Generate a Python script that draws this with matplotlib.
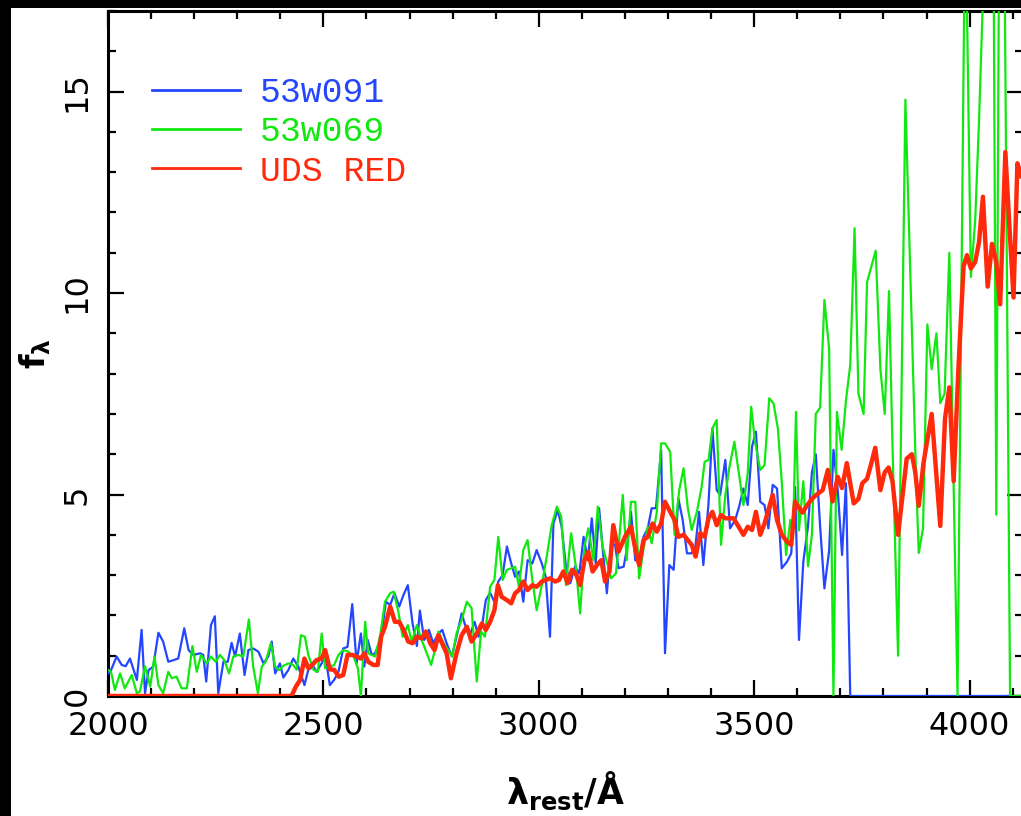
import numpy as np
import matplotlib
matplotlib.use("Agg")
import matplotlib.pyplot as plt
from matplotlib.lines import Line2D
from matplotlib.patches import Rectangle
from matplotlib.ticker import MultipleLocator

# rest-frame spectra: wavelength (A) and f_lambda
blue_wave = [2000, 2007, 2020, 2032, 2041, 2051, 2067, 2078, 2086, 2094,
             2105, 2117, 2128, 2140, 2152, 2163, 2177, 2187, 2198, 2214,
             2221, 2228, 2239, 2248, 2256, 2268, 2278, 2287, 2295, 2306,
             2317, 2326, 2337, 2349, 2361, 2372, 2380, 2388, 2399, 2407,
             2419, 2430, 2442, 2456, 2465, 2477, 2484, 2496, 2504, 2515,
             2525, 2535, 2546, 2556, 2567, 2577, 2587, 2595, 2603, 2612,
             2620, 2634, 2645, 2655, 2665, 2676, 2686, 2696, 2707, 2717,
             2724, 2734, 2745, 2755, 2767, 2776, 2786, 2798, 2809, 2821,
             2830, 2840, 2851, 2860, 2869, 2877, 2887, 2897, 2906, 2916,
             2926, 2936, 2945, 2954, 2964, 2974, 2985, 2995, 3007, 3016,
             3026, 3034, 3044, 3053, 3063, 3073, 3084, 3094, 3104, 3114,
             3123, 3132, 3140, 3150, 3158, 3168, 3177, 3185, 3197, 3204,
             3214, 3224, 3233, 3243, 3253, 3262, 3272, 3284, 3293, 3303,
             3313, 3324, 3334, 3344, 3354, 3363, 3372, 3382, 3394, 3403,
             3413, 3421, 3433, 3444, 3456, 3465, 3475, 3485, 3495, 3504,
             3514, 3524, 3533, 3543, 3553, 3564, 3576, 3586, 3595, 3604,
             3614, 3625, 3634, 3643, 3653, 3663, 3674, 3684, 3694, 3704,
             3713, 3723, 4120]
blue_flux = [0.55, 0.64, 0.98, 0.77, 0.74, 0.93, 0.40, 1.64, 0.07, 0.64,
             0.73, 1.57, 1.35, 0.85, 0.89, 0.93, 1.68, 1.14, 1.02, 1.06,
             1.02, 0.36, 1.76, 1.98, 0.07, 0.85, 0.85, 1.32, 0.98, 1.55,
             0.52, 1.14, 1.18, 1.10, 0.81, 0.98, 1.35, 0.56, 0.81, 0.46,
             0.65, 0.93, 0.73, 0.27, 0.65, 0.73, 0.60, 0.81, 1.02, 0.27,
             0.40, 0.60, 1.18, 1.22, 2.28, 0.81, 1.55, 0.73, 1.39, 1.02,
             1.06, 1.43, 2.34, 2.26, 2.55, 2.22, 2.51, 2.75, 1.80, 1.24,
             2.12, 1.39, 1.64, 1.31, 1.55, 1.64, 1.31, 0.98, 1.47, 2.05,
             1.72, 1.51, 1.84, 1.47, 1.80, 2.38, 2.56, 2.34, 2.84, 3.00,
             3.71, 3.29, 2.96, 3.09, 2.34, 3.37, 3.29, 3.62, 3.29, 2.96,
             1.47, 4.28, 4.62, 4.20, 3.21, 2.80, 3.21, 3.04, 3.95, 3.37,
             4.41, 3.29, 4.66, 3.46, 2.55, 3.79, 3.75, 3.17, 3.21, 3.62,
             4.57, 3.37, 3.33, 3.95, 4.16, 4.66, 4.66, 6.10, 1.06, 3.25,
             3.13, 4.90, 4.37, 3.54, 3.54, 3.66, 4.57, 3.25, 4.78, 6.64,
             5.11, 4.99, 5.86, 4.16, 4.37, 4.70, 5.15, 4.74, 6.19, 6.56,
             4.82, 4.74, 4.16, 5.24, 5.15, 3.17, 3.33, 3.54, 5.19, 1.39,
             3.33, 4.22, 5.55, 6.00, 4.22, 2.67, 3.61, 6.11, 5.11, 3.50,
             5.28, 0.0, 0.0]

green_wave = [2000, 2007, 2016, 2028, 2039, 2055, 2067, 2074, 2086, 2098,
              2108, 2117, 2128, 2140, 2148, 2159, 2171, 2183, 2196, 2206,
              2216, 2229, 2239, 2250, 2260, 2270, 2281, 2291, 2303, 2314,
              2327, 2337, 2348, 2357, 2366, 2378, 2388, 2397, 2407, 2419,
              2430, 2438, 2448, 2457, 2465, 2477, 2487, 2496, 2504, 2515,
              2525, 2535, 2546, 2558, 2570, 2580, 2587, 2597, 2604, 2612,
              2620, 2632, 2643, 2655, 2663, 2674, 2684, 2696, 2705, 2717,
              2728, 2740, 2750, 2759, 2767, 2779, 2790, 2799, 2809, 2821,
              2833, 2844, 2856, 2866, 2875, 2887, 2897, 2906, 2916, 2926,
              2936, 2945, 2954, 2964, 2974, 2985, 2995, 3007, 3019, 3030,
              3042, 3052, 3063, 3075, 3086, 3096, 3106, 3115, 3127, 3137,
              3148, 3158, 3168, 3179, 3186, 3195, 3204, 3214, 3224, 3233,
              3243, 3253, 3262, 3274, 3284, 3293, 3305, 3315, 3326, 3336,
              3346, 3355, 3367, 3378, 3385, 3394, 3403, 3413, 3423, 3433,
              3442, 3454, 3465, 3475, 3485, 3493, 3502, 3514, 3524, 3535,
              3545, 3555, 3564, 3574, 3584, 3590, 3597, 3604, 3614, 3625,
              3634, 3643, 3653, 3663, 3674, 3684, 3692, 3703, 3713, 3723,
              3733, 3742, 3754, 3762, 3782, 3793, 3803, 3813, 3821, 3834,
              3851, 3876, 3882, 3892, 3902, 3912, 3923, 3932, 3942, 3953,
              3972, 3990, 4003, 4013, 4022, 4039, 4055, 4062, 4069, 4080,
              4094, 4120]
green_flux = [0.65, 0.60, 0.15, 0.56, 0.19, 0.52, 0.07, 0.11, 0.74, 0.23,
              0.98, 0.27, 0.07, 0.60, 0.44, 0.48, 0.19, 0.19, 1.24, 0.60,
              1.02, 0.81, 0.98, 0.85, 1.02, 0.89, 0.56, 0.98, 1.02, 0.98,
              1.90, 0.73, 0.07, 0.73, 0.85, 1.31, 0.73, 0.64, 0.75, 0.81,
              0.77, 0.65, 1.51, 1.47, 1.02, 0.65, 0.60, 1.55, 0.69, 0.73,
              0.77, 1.02, 1.14, 1.10, 0.98, 0.69, 0.0, 1.84, 1.06, 1.02,
              0.98, 1.51, 2.34, 2.55, 2.59, 2.09, 1.47, 1.76, 1.35, 1.76,
              1.39, 1.06, 0.77, 1.14, 1.60, 1.31, 1.14, 0.98, 1.55, 1.89,
              2.34, 2.18, 0.36, 1.60, 1.47, 2.71, 2.88, 3.95, 2.88, 3.13,
              3.17, 3.21, 2.71, 3.62, 3.87, 2.88, 2.13, 2.75, 3.50, 4.24,
              4.70, 4.45, 2.75, 4.04, 3.21, 2.05, 3.71, 4.16, 3.37, 4.70,
              3.71, 3.33, 2.92, 3.04, 3.79, 4.99, 3.37, 4.82, 4.82, 2.92,
              3.66, 4.20, 3.79, 4.57, 6.27, 6.27, 6.06, 4.00, 5.11, 5.65,
              4.66, 4.12, 4.57, 5.19, 5.81, 5.86, 6.64, 6.85, 3.75, 4.99,
              5.65, 6.31, 5.48, 4.74, 5.53, 7.18, 6.31, 5.61, 5.73, 7.39,
              7.26, 6.64, 5.32, 3.50, 4.37, 3.95, 7.05, 4.11, 5.33, 3.22,
              4.00, 7.00, 7.16, 9.83, 8.61, 0.0, 7.05, 6.11, 7.33, 8.22,
              11.61, 7.50, 7.00, 10.27, 11.05, 8.11, 7.00, 10.05, 6.22, 1.00,
              14.8, 5.33, 3.55, 4.16, 9.22, 8.11, 9.00, 7.27, 7.50, 11.0,
              0.0, 20.0, 10.4, 11.8, 14.3, 20.0, 20.0, 4.5, 20.0, 20.0,
              0.0, 0.0]

red_wave = [2000, 2426, 2436, 2446, 2456, 2465, 2474, 2484, 2496, 2504,
            2515, 2525, 2536, 2546, 2556, 2567, 2577, 2587, 2595, 2604,
            2616, 2626, 2634, 2643, 2655, 2666, 2676, 2686, 2697, 2707,
            2717, 2728, 2738, 2748, 2758, 2767, 2777, 2786, 2796, 2809,
            2821, 2833, 2844, 2856, 2868, 2877, 2887, 2897, 2905, 2914,
            2926, 2936, 2945, 2954, 2964, 2974, 2985, 2995, 3007, 3016,
            3026, 3038, 3047, 3057, 3067, 3077, 3086, 3096, 3106, 3115,
            3125, 3135, 3145, 3154, 3164, 3173, 3185, 3200, 3214, 3224,
            3233, 3243, 3253, 3264, 3274, 3284, 3293, 3305, 3315, 3324,
            3336, 3346, 3355, 3364, 3375, 3385, 3394, 3403, 3413, 3423,
            3433, 3442, 3452, 3464, 3475, 3485, 3495, 3504, 3514, 3524,
            3533, 3543, 3553, 3564, 3576, 3586, 3595, 3601, 3612, 3622,
            3634, 3645, 3659, 3671, 3682, 3694, 3704, 3715, 3731, 3742,
            3751, 3762, 3772, 3781, 3793, 3803, 3812, 3821, 3834, 3854,
            3866, 3874, 3882, 3893, 3912, 3932, 3943, 3953, 3963, 3974,
            3986, 3994, 4003, 4013, 4022, 4031, 4042, 4052, 4062, 4071,
            4083, 4093, 4102, 4111, 4120]
red_flux = [0.0, 0.0, 0.23, 0.40, 0.93, 0.69, 0.77, 0.89, 0.93, 1.14,
            0.66, 0.65, 0.48, 0.52, 1.02, 1.02, 0.98, 0.93, 1.06, 0.85,
            0.77, 0.77, 1.47, 1.72, 2.22, 1.84, 1.84, 1.64, 1.35, 1.31,
            1.47, 1.43, 1.60, 1.31, 1.14, 1.51, 1.27, 1.06, 0.44, 1.06,
            1.51, 1.72, 1.35, 1.55, 1.80, 1.64, 1.84, 2.13, 2.75, 2.46,
            2.38, 2.30, 2.55, 2.63, 2.84, 2.63, 2.75, 2.71, 2.84, 2.88,
            2.92, 2.84, 2.88, 3.09, 2.80, 3.13, 3.04, 2.75, 3.37, 3.58,
            3.09, 3.25, 3.37, 2.84, 3.09, 4.24, 3.58, 3.95, 4.20, 3.66,
            3.25, 3.87, 3.95, 4.28, 4.08, 4.28, 4.82, 4.57, 4.37, 3.95,
            4.00, 3.87, 3.75, 3.46, 4.04, 3.95, 4.41, 4.57, 4.24, 4.49,
            4.41, 4.41, 4.41, 4.20, 4.00, 4.20, 4.12, 4.57, 4.00, 4.28,
            4.62, 4.99, 4.37, 4.00, 3.83, 3.75, 4.82, 4.72, 4.55, 4.72,
            4.89, 5.00, 5.11, 5.61, 4.83, 5.44, 5.16, 5.78, 4.78, 4.89,
            5.28, 5.39, 5.78, 6.16, 5.11, 5.55, 5.67, 5.33, 4.00, 5.89,
            6.00, 5.55, 4.72, 5.78, 7.00, 4.22, 6.89, 7.66, 5.33, 8.11,
            10.66, 10.94, 10.61, 10.77, 11.27, 12.39, 10.16, 11.22, 10.77, 9.72,
            13.5, 11.55, 9.89, 13.22, 12.9]

series_names = ["53w091", "53w069", "UDS RED"]
series_colors = ["#2446ff", "#10e810", "#ff2a0c"]

assert len(blue_wave) == len(blue_flux)
assert len(green_wave) == len(green_flux)
assert len(red_wave) == len(red_flux)

W, H = 1021, 816
fig = plt.figure(figsize=(W / 100, H / 100), dpi=100)
fig.patch.set_facecolor("white")
# dark frame strips along the left and top edges
fig.patches.append(Rectangle((0, 0), 11 / W, 1, transform=fig.transFigure,
                             facecolor="black", edgecolor="none", zorder=10))
fig.patches.append(Rectangle((0, 1 - 8 / H), 1, 8 / H, transform=fig.transFigure,
                             facecolor="black", edgecolor="none", zorder=10))

ax = fig.add_axes([108 / W, (H - 696) / H, 915 / W, 685 / H])

ax.plot(blue_wave, blue_flux, color=series_colors[0], lw=1.6, zorder=3)
ax.plot(green_wave, green_flux, color=series_colors[1], lw=1.6, zorder=3)
ax.plot(red_wave, red_flux, color=series_colors[2], lw=3.2, zorder=4,
        solid_joinstyle="round")

ax.set_xlim(2000, 4124)
ax.set_ylim(0, 17)

ax.xaxis.set_major_locator(MultipleLocator(500))
ax.xaxis.set_minor_locator(MultipleLocator(100))
ax.yaxis.set_major_locator(MultipleLocator(5))
ax.yaxis.set_minor_locator(MultipleLocator(1))
ax.tick_params(which="both", direction="in", top=True, right=True,
               width=1.6, colors="black")
ax.tick_params(which="major", length=11.5, pad=11, labelsize=23)
ax.tick_params(which="minor", length=6)
for lab in ax.get_yticklabels():
    lab.set_rotation(90)
    lab.set_va("center")
for sp in ax.spines.values():
    sp.set_linewidth(2.2)

ax.set_xlabel(r"$\mathbf{\lambda}_{\mathbf{rest}}\mathbf{/\AA}$", fontsize=25, labelpad=20)
ax.set_ylabel(r"$\mathbf{f}_{\mathbf{\lambda}}$", fontsize=24, labelpad=6)

handles = [Line2D([], [], color=c, lw=2.0) for c in series_colors]
ax.legend(handles, series_names, loc="upper left", bbox_to_anchor=(0.048, 0.905),
          frameon=False, borderpad=0, borderaxespad=0, handlelength=2.55,
          handletextpad=0.55, labelspacing=0.18, labelcolor=series_colors,
          prop={"family": "Liberation Mono", "size": 25})

fig.savefig("out.png", dpi=100, facecolor=fig.get_facecolor())
